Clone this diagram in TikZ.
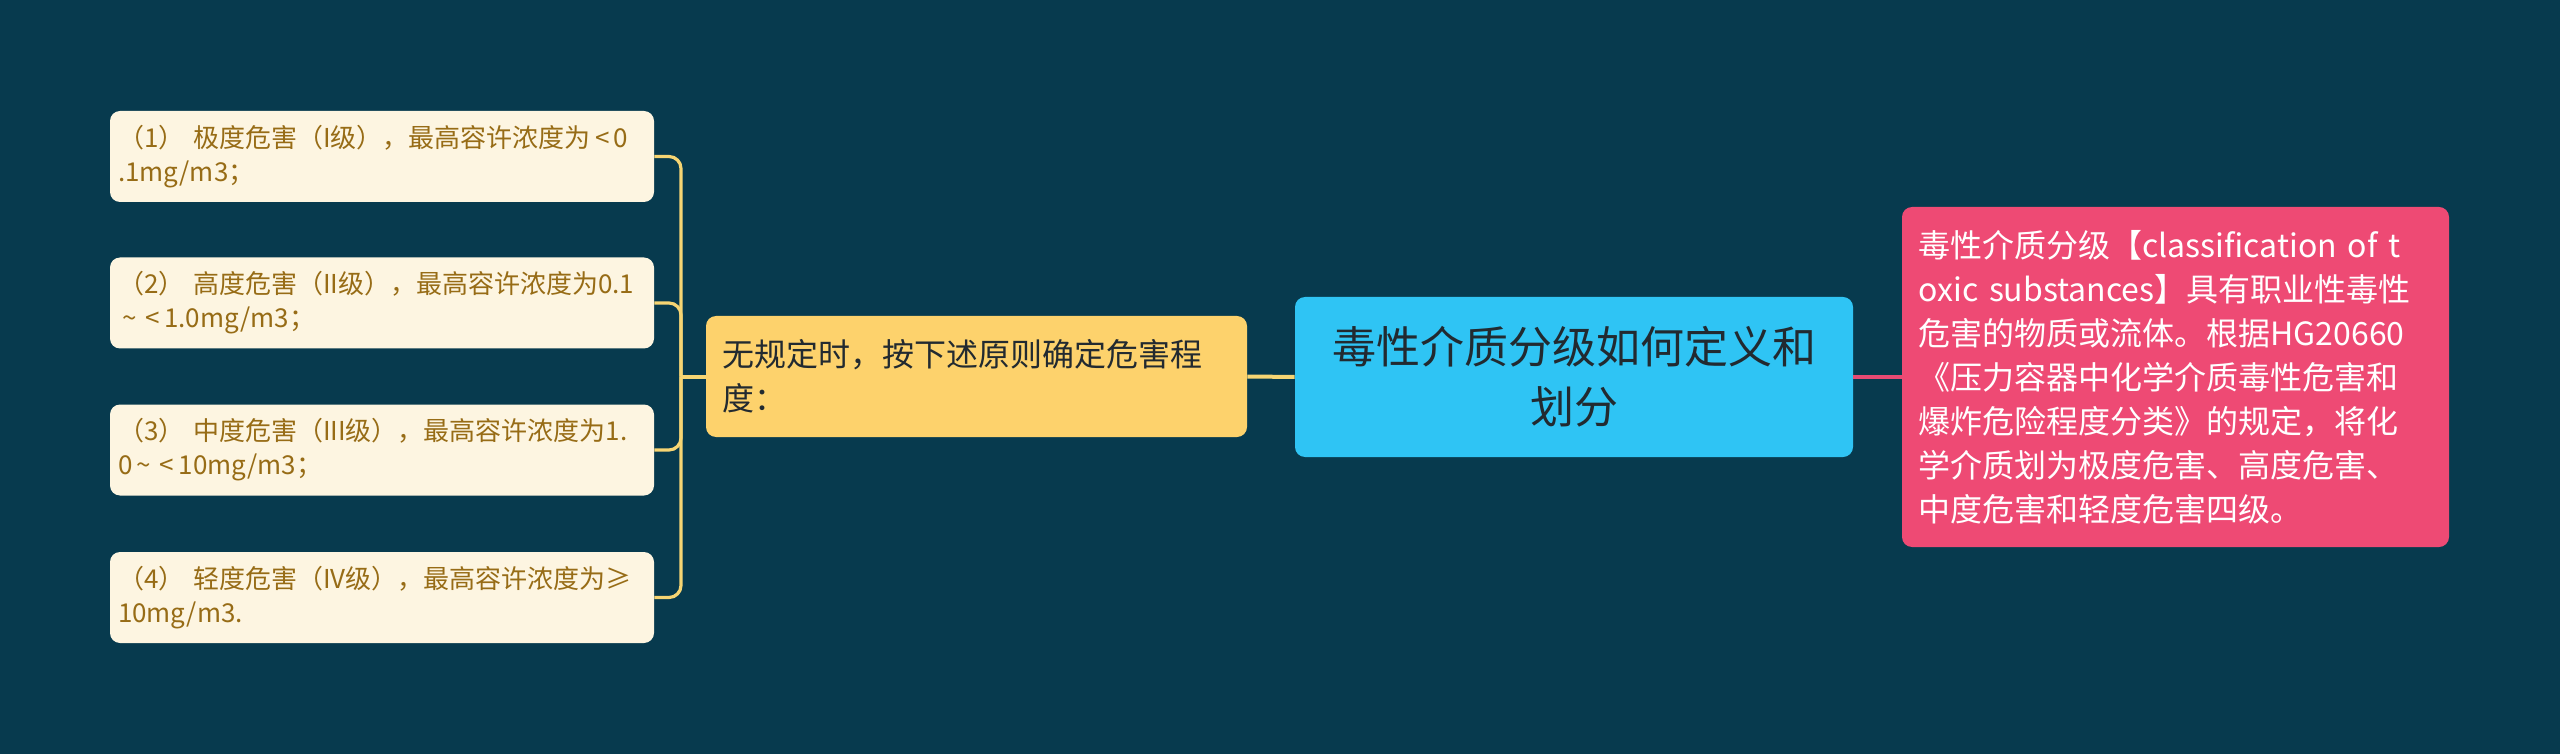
\documentclass[tikz,border=0pt]{standalone}
\usepackage{fontspec}
\newfontfamily\cjk{Noto Sans CJK SC}
\usepackage{tikz}
\usetikzlibrary{positioning}

\definecolor{bgteal}{HTML}{073A4E}
\definecolor{leafcream}{HTML}{FDF5E1}
\definecolor{leaftext}{HTML}{976C16}
\definecolor{subyellow}{HTML}{FDD26C}
\definecolor{rootblue}{HTML}{2FC4F4}
\definecolor{notepink}{HTML}{EE4A74}
\definecolor{darktext}{HTML}{222A30}
\definecolor{ylinecol}{HTML}{F6D573}
\definecolor{plinecol}{HTML}{E84A73}

\begin{document}
\begin{tikzpicture}[x=0.5pt,y=-0.5pt,
  box/.style={rounded corners=5pt, inner ysep=0pt, align=left},
  leafbox/.style={box, fill=leafcream, text=leaftext, text width=264pt,
    inner xsep=4pt, minimum height=45.5pt,
    font=\cjk\fontsize{13pt}{17pt}\selectfont},
  subbox/.style={box, fill=subyellow, text=darktext, text width=254pt,
    inner xsep=8.25pt, minimum height=60.5pt,
    font=\cjk\fontsize{16pt}{22pt}\selectfont},
  rootbox/.style={box, align=center, fill=rootblue, text=darktext,
    text width=263pt, inner xsep=8pt, minimum height=80pt,
    font=\cjk\fontsize{22pt}{30pt}\selectfont},
  notebox/.style={box, fill=notepink, text=white, text width=257pt,
    inner xsep=8.25pt, minimum height=170pt,
    font=\cjk\fontsize{16pt}{22pt}\selectfont},
  ylink/.style={draw=ylinecol, line width=2pt},
  brace/.style={draw=ylinecol, line width=1.6pt, rounded corners=6pt},
  plink/.style={draw=plinecol, line width=2pt}]

\fill[bgteal] (0,0) rectangle (2560,754);
\useasboundingbox (0,0) rectangle (2560,754);

% centre and its two sides
\node[rootbox] (root) at (1574,377) {毒性介质分级如何定义和\\划分};
\node[subbox] (rule) at (976.5,376.5) {无规定时，按下述原则确定危害程\\度：};
\node[notebox] (note) at (2175.5,377) {毒性介质分级【classification of t\\
oxic substances】具有职业性毒性\\
危害的物质或流体。根据HG20660\\
《压力容器中化学介质毒性危害和\\
爆炸危险程度分类》的规定，将化\\
学介质划为极度危害、高度危害、\\
中度危害和轻度危害四级。};

% the four grades
\node[leafbox] (leaf1) at (382,156.5) {（1）~极度危害（I级），最高容许浓度为\,<\,0\\.1mg/m3；};
\node[leafbox] (leaf2) at (382,303) {（2）~高度危害（II级），最高容许浓度为0.1\\\,\textasciitilde{} <\,1.0mg/m3；};
\node[leafbox] (leaf3) at (382,450) {（3）~中度危害（III级），最高容许浓度为1.\\0\,\textasciitilde{} <\,10mg/m3；};
\node[leafbox] (leaf4) at (382,597.5) {（4）~轻度危害（IV级），最高容许浓度为≥\\10mg/m3.};

\coordinate (jn) at (681,376.5);

\draw[ylink] (rule) -- (root);
\draw[plink] (root) -- (note);
\draw[ylink] (rule.west) -- (jn);
\foreach \i in {1,...,4}
  \draw[brace] (jn) |- (leaf\i.east);

\end{tikzpicture}
\end{document}
